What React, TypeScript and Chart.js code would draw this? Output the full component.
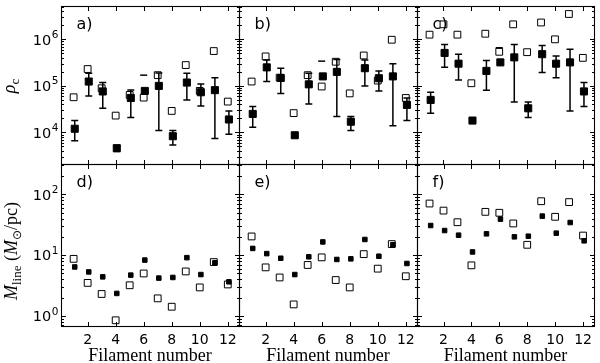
import { useEffect, useRef } from "react";
import { Chart, registerables } from "chart.js";

Chart.register(...registerables);

// ---------------- data ----------------
const filaments = [1, 2, 3, 4, 5, 6, 7, 8, 9, 10, 11, 12];
const xTickValues = [2, 4, 6, 8, 10, 12];
const rhoDecades = [4, 5, 6];
const mlineDecades = [0, 1, 2];
const panelLabels = ["a)", "b)", "c)", "d)", "e)", "f)"];
const xAxisTitle = "Filament number";

// rho_c, panel a
const rhoOpenA = [5.7e4, 2.3e5, 8.9e4, 2.3e4, 6.4e4, 5.6e4, 1.7e5, 2.9e4, 2.8e5, 7.8e4, 5.6e5, 4.6e4];
const rhoFilledA = [1.2e4, 1.24e5, 7.6e4, 4.6e3, 5.5e4, 7.8e4, 1.0e5, 8.3e3, 1.18e5, 7.3e4, 8.1e4, 1.9e4];
const rhoHighA = [1.8e4, 1.86e5, 1.18e5, 5.1e3, 8.2e4, null, 1.9e5, 1.1e4, 1.86e5, 1.1e5, 1.5e5, 2.9e4];
const rhoLowA = [6.6e3, 6.1e4, 3.3e4, 3.9e3, 2.1e4, null, 1.1e4, 5.4e3, 5.0e4, 3.7e4, 7.4e3, 9.1e3];
const rhoDashA = [null, null, null, null, null, 1.7e5, null, null, null, null, null, null];

// rho_c, panel b
const rhoOpenB = [1.24e5, 4.3e5, 1.5e5, 2.6e4, 1.7e5, 9.7e4, 3.3e5, 6.9e4, 4.5e5, 1.3e5, 9.8e5, 5.5e4];
const rhoFilledB = [2.5e4, 2.5e5, 1.48e5, 8.7e3, 1.08e5, 1.6e5, 2.0e5, 1.7e4, 2.4e5, 1.46e5, 1.6e5, 3.9e4];
const rhoHighB = [3.6e4, 3.6e5, 2.4e5, 9.5e3, 1.86e5, null, 3.7e5, 2.2e4, 3.6e5, 2.1e5, 3.0e5, 5.5e4];
const rhoLowB = [1.3e4, 1.24e5, 6.9e4, 8.0e3, 4.1e4, null, 2.2e4, 1.1e4, 1.0e5, 7.8e4, 1.4e4, 1.8e4];
const rhoDashB = [null, null, null, null, null, 3.4e5, null, null, null, null, null, null];

// rho_c, panel c
const rhoOpenC = [1.26e6, 2.1e6, 1.26e6, 1.14e5, 1.32e6, 5.4e5, 2.1e6, 5.3e5, 2.3e6, 1.0e6, 3.5e6, 4.0e5];
const rhoFilledC = [5.0e4, 5.1e5, 3.0e5, 1.8e4, 2.1e5, 3.2e5, 4.1e5, 3.3e4, 4.8e5, 3.0e5, 3.2e5, 7.6e4];
const rhoHighC = [7.3e4, 7.7e5, 4.8e5, 2.0e4, 3.5e5, null, 7.7e5, 4.5e4, 7.4e5, 4.4e5, 6.1e5, 1.18e5];
const rhoLowC = [2.6e4, 2.5e5, 1.34e5, 1.6e4, 8.1e4, null, 4.5e4, 2.1e4, 1.95e5, 1.5e5, 2.9e4, 3.6e4];
const rhoDashC = [null, null, null, null, null, 6.6e5, null, null, null, null, null, null];

// M_line, panels d, e, f
const mlineOpenD = [8.7, 3.5, 2.3, 0.85, 3.2, 5.0, 1.95, 1.42, 5.4, 2.95, 7.7, 3.3];
const mlineFilledD = [6.4, 5.3, 4.4, 2.35, 4.7, 8.3, 4.2, 4.3, 9.1, 4.8, 7.5, 3.65];
const mlineOpenE = [20.3, 6.3, 4.3, 1.55, 6.9, 9.2, 3.9, 2.95, 10.4, 6.0, 15.2, 4.5];
const mlineFilledE = [12.9, 10.6, 8.9, 4.8, 9.4, 16.5, 8.5, 8.7, 18.1, 9.6, 14.8, 7.3];
const mlineOpenF = [70.6, 54, 34.8, 6.8, 51.5, 49.7, 33.2, 14.8, 77, 42.7, 74.5, 21];
const mlineFilledF = [30.7, 25.4, 21.3, 11.3, 22.4, 39.1, 20.0, 20.5, 43.8, 23.0, 34.4, 17.2];

// ---------------- layout ----------------
const W = 600;
const H = 363;
const colEdges = [61, 239, 417, 595];
const rowEdges = [4, 164, 326];
const X_MIN = 0.1;
const X_MAX = 12.8;
const RHO_MIN = 2100;
const RHO_MAX = 5.2e6;
const ML_MIN = 0.685;
const ML_MAX = 315;
const FILLED_SHIFT = 0.08;

type Panel = {
  label: string;
  row: number;
  col: number;
  open: number[];
  filled: number[];
  high?: (number | null)[];
  low?: (number | null)[];
  dash?: (number | null)[];
};

const panels: Panel[] = [
  { label: panelLabels[0], row: 0, col: 0, open: rhoOpenA, filled: rhoFilledA, high: rhoHighA, low: rhoLowA, dash: rhoDashA },
  { label: panelLabels[1], row: 0, col: 1, open: rhoOpenB, filled: rhoFilledB, high: rhoHighB, low: rhoLowB, dash: rhoDashB },
  { label: panelLabels[2], row: 0, col: 2, open: rhoOpenC, filled: rhoFilledC, high: rhoHighC, low: rhoLowC, dash: rhoDashC },
  { label: panelLabels[3], row: 1, col: 0, open: mlineOpenD, filled: mlineFilledD },
  { label: panelLabels[4], row: 1, col: 1, open: mlineOpenE, filled: mlineFilledE },
  { label: panelLabels[5], row: 1, col: 2, open: mlineOpenF, filled: mlineFilledF },
];

const SANS = '"DejaVu Sans", sans-serif';
const SERIF = '"Liberation Serif", serif';

type Seg = { t: string; font: string; dy: number };

function drawRich(ctx: CanvasRenderingContext2D, segs: Seg[], cx: number, cy: number, rotate: boolean) {
  ctx.save();
  ctx.translate(cx, cy);
  if (rotate) ctx.rotate(-Math.PI / 2);
  let total = 0;
  const widths = segs.map((s) => {
    ctx.font = s.font;
    const w = ctx.measureText(s.t).width;
    total += w;
    return w;
  });
  let x = -total / 2;
  ctx.textAlign = "left";
  ctx.textBaseline = "alphabetic";
  ctx.fillStyle = "#000";
  segs.forEach((s, i) => {
    ctx.font = s.font;
    ctx.fillText(s.t, x, s.dy);
    x += widths[i];
  });
  ctx.restore();
}

function makeDecor(p: Panel) {
  return {
    id: "decor",
    beforeDatasetsDraw(chart: any) {
      if (!p.low || !p.high) return;
      const ctx: CanvasRenderingContext2D = chart.ctx;
      const xs = chart.scales.x;
      const ys = chart.scales.y;
      ctx.save();
      ctx.strokeStyle = "#000";
      ctx.lineWidth = 1.5;
      filaments.forEach((f, i) => {
        const lo = p.low![i];
        const hi = p.high![i];
        if (lo == null || hi == null) return;
        const x = xs.getPixelForValue(f + FILLED_SHIFT);
        const y1 = ys.getPixelForValue(lo);
        const y2 = ys.getPixelForValue(hi);
        ctx.beginPath();
        ctx.moveTo(x, y1);
        ctx.lineTo(x, y2);
        ctx.moveTo(x - 3.5, y1);
        ctx.lineTo(x + 3.5, y1);
        ctx.moveTo(x - 3.5, y2);
        ctx.lineTo(x + 3.5, y2);
        ctx.stroke();
      });
      ctx.restore();
    },
    afterDraw(chart: any) {
      const ctx: CanvasRenderingContext2D = chart.ctx;
      const a = chart.chartArea;
      const xs = chart.scales.x;
      const ys = chart.scales.y;
      const L = Math.round(a.left) + 0.5;
      const R = Math.round(a.right) + 0.5;
      const T = Math.round(a.top) + 0.5;
      const B = Math.round(a.bottom) + 0.5;
      ctx.save();
      ctx.strokeStyle = "#000";
      ctx.lineWidth = 1.1;
      ctx.strokeRect(L, T, R - L, B - T);

      const major = 4.5;
      const minor = 2.5;
      ctx.lineWidth = 1;
      ctx.beginPath();
      xTickValues.forEach((t) => {
        const px = Math.round(xs.getPixelForValue(t)) + 0.5;
        ctx.moveTo(px, B);
        ctx.lineTo(px, B - major);
        ctx.moveTo(px, T);
        ctx.lineTo(px, T + major);
      });
      const lmin = Math.floor(Math.log10(ys.min));
      const lmax = Math.ceil(Math.log10(ys.max));
      for (let d = lmin; d <= lmax; d++) {
        for (let k = 1; k <= 9; k++) {
          const v = k * Math.pow(10, d);
          if (v < ys.min || v > ys.max) continue;
          const py = Math.round(ys.getPixelForValue(v)) + 0.5;
          const len = k === 1 ? major : minor;
          ctx.moveTo(L, py);
          ctx.lineTo(L + len, py);
          ctx.moveTo(R, py);
          ctx.lineTo(R - len, py);
        }
      }
      ctx.stroke();

      ctx.fillStyle = "#000";
      // y tick labels
      if (p.col === 0) {
        const decades = p.row === 0 ? rhoDecades : mlineDecades;
        decades.forEach((d) => {
          const py = ys.getPixelForValue(Math.pow(10, d));
          ctx.font = `10.5px ${SANS}`;
          ctx.textAlign = "right";
          ctx.textBaseline = "alphabetic";
          const expW = ctx.measureText(String(d)).width;
          const right = a.left - 2.5;
          ctx.fillText(String(d), right, py - 1.5);
          ctx.font = `14.5px ${SANS}`;
          ctx.fillText("10", right - expW - 0.5, py + 5.3);
        });
      }
      // x tick labels + title
      if (p.row === 1) {
        ctx.font = `14px ${SANS}`;
        ctx.textAlign = "center";
        ctx.textBaseline = "alphabetic";
        xTickValues.forEach((t) => {
          ctx.fillText(String(t), xs.getPixelForValue(t), a.bottom + 17.5);
        });
        ctx.font = `18px ${SERIF}`;
        ctx.fillText(xAxisTitle, (a.left + a.right) / 2, 361);
      }
      // panel label
      ctx.font = `16px ${SANS}`;
      ctx.textAlign = "left";
      ctx.textBaseline = "alphabetic";
      ctx.fillText(p.label, a.left + 15.5, a.top + 23);

      // y axis titles
      if (p.col === 0 && p.row === 0) {
        drawRich(
          ctx,
          [
            { t: "ρ", font: `italic 18px ${SERIF}`, dy: 0 },
            { t: "c", font: `13px ${SERIF}`, dy: 4 },
          ],
          15,
          86,
          true
        );
      }
      if (p.col === 0 && p.row === 1) {
        drawRich(
          ctx,
          [
            { t: "M", font: `italic 18px ${SERIF}`, dy: 0 },
            { t: "line", font: `13px ${SERIF}`, dy: 4 },
            { t: " (", font: `18px ${SERIF}`, dy: 0 },
            { t: "M", font: `italic 18px ${SERIF}`, dy: 0 },
            { t: "⊙", font: `12px "DejaVu Sans"`, dy: 4 },
            { t: "/pc)", font: `18px ${SERIF}`, dy: 0 },
          ],
          17,
          251,
          true
        );
      }
      ctx.restore();
    },
  };
}

function PanelChart({ p }: { p: Panel }) {
  const ref = useRef<HTMLCanvasElement | null>(null);
  useEffect(() => {
    const canvas = ref.current;
    if (!canvas) return;
    const top = p.row === 0;
    const x0 = colEdges[p.col];
    const x1 = colEdges[p.col + 1];
    const y0 = rowEdges[p.row];
    const y1 = rowEdges[p.row + 1];
    const filledPts = filaments.map((f, i) => ({ x: f + FILLED_SHIFT, y: p.filled[i] }));
    const openPts = filaments.map((f, i) => ({ x: f, y: p.open[i] }));
    const dashPts = p.dash
      ? filaments
          .map((f, i) => ({ x: f, y: p.dash![i] }))
          .filter((d) => d.y != null)
      : [];
    const chart = new Chart(canvas, {
      type: "scatter",
      data: {
        datasets: [
          {
            data: filledPts,
            pointStyle: "rect",
            pointRadius: top ? 5 : 3.2,
            pointBackgroundColor: "#000",
            pointBorderColor: "#000",
            pointBorderWidth: 1,
          },
          {
            data: dashPts as any,
            pointStyle: "line",
            pointRadius: 3.5,
            pointBorderColor: "#000",
            pointBorderWidth: 1.5,
          },
          {
            data: openPts,
            pointStyle: "rect",
            pointRadius: 4.8,
            pointBackgroundColor: "rgba(0,0,0,0)",
            pointBorderColor: "#000",
            pointBorderWidth: 1,
          },
        ],
      },
      options: {
        responsive: false,
        animation: false,
        events: [],
        devicePixelRatio: 1,
        layout: { padding: { left: x0, right: W - x1, top: y0, bottom: H - y1 } },
        plugins: { legend: { display: false }, tooltip: { enabled: false } },
        scales: {
          x: { type: "linear", display: false, min: X_MIN, max: X_MAX },
          y: {
            type: "logarithmic",
            display: false,
            min: top ? RHO_MIN : ML_MIN,
            max: top ? RHO_MAX : ML_MAX,
          },
        },
      },
      plugins: [makeDecor(p)],
    } as any);
    return () => chart.destroy();
  }, [p]);
  return (
    <canvas
      ref={ref}
      width={W}
      height={H}
      style={{ position: "absolute", left: 0, top: 0, width: W, height: H }}
    />
  );
}

export default function App() {
  return (
    <div style={{ position: "absolute", left: 0, top: 0, width: W, height: H, background: "#fff" }}>
      {panels.map((p) => (
        <PanelChart key={p.label} p={p} />
      ))}
    </div>
  );
}
